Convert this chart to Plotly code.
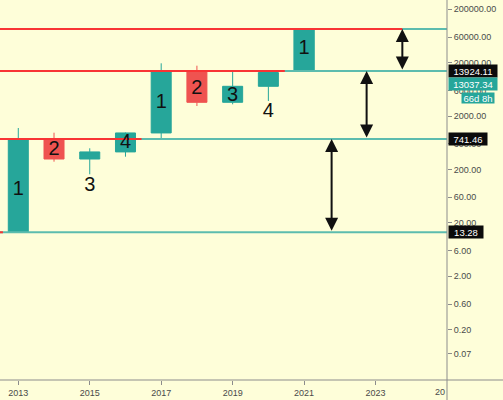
import math
import plotly.graph_objects as go

# ---- data ----
years = [2013, 2014, 2015, 2016, 2017, 2018, 2019, 2020]
opens = [13.28, 741.46, 313, 425, 963, 13880, 3612, 7200]
highs = [1192, 974, 497, 985, 19410, 17500, 13510, 13217]
lows = [13.28, 279, 162, 346, 732, 3078, 3313, 3819]
closes = [741.46, 313, 425, 963, 13880, 3612, 7200, 13037.34]

proj_year = [2021]
proj_open = [13924.11]
proj_close = [85000]

levels = [13.28, 741.46, 13924.11, 85000]
red_end_years = [2012.57, 2016.45, 2020.46, 2023.75]

arrow_years = [2021.77, 2022.75, 2023.75]
arrow_lows = [13.28, 741.46, 13924.11]
arrow_highs = [741.46, 13924.11, 85000]

label_years = [2013, 2014, 2015, 2016, 2017, 2018, 2019, 2020, 2021]
label_values = [82, 462, 98, 624, 3500, 6400, 4740, 2380, 36000]
label_texts = ["1", "2", "3", "4", "1", "2", "3", "4", "1"]

ytick_vals = [0.07, 0.2, 0.6, 2, 6, 20, 60, 200, 600, 2000, 6000, 20000, 60000, 200000]
ytick_text = ["%.2f" % v for v in ytick_vals]
xtick_vals = [2013, 2015, 2017, 2019, 2021, 2023]
xtick_text = [str(v) for v in xtick_vals]

last_price = 13037.34
countdown = "66d 8h"

# ---- style ----
BG = "#fefed9"
TEAL = "#26a69a"
TEAL_LINE = "#5cbcae"
RED = "#ef5350"
RED_LINE = "#f83434"
AXIS = "#8c8c8c"
TXT = "#4a4a4a"
FONT = "Liberation Sans"

X0, X1 = 2012.488, 2025.0
Y0, Y1 = -1.6427, 5.4734

fig = go.Figure()

# teal horizontal levels (full width)
for lv in levels:
    fig.add_trace(go.Scatter(x=[X0, X1], y=[lv, lv], mode="lines",
                             line=dict(color=TEAL_LINE, width=2), hoverinfo="skip", showlegend=False))
# red partial lines
for lv, xe in zip(levels, red_end_years):
    fig.add_trace(go.Scatter(x=[X0, xe], y=[lv, lv], mode="lines",
                             line=dict(color=RED_LINE, width=2), hoverinfo="skip", showlegend=False))

fig.add_trace(go.Candlestick(
    x=years, open=opens, high=highs, low=lows, close=closes,
    increasing=dict(line=dict(color=TEAL, width=1), fillcolor=TEAL),
    decreasing=dict(line=dict(color=RED, width=1), fillcolor=RED),
    whiskerwidth=0, showlegend=False, hoverinfo="skip"))

fig.add_trace(go.Bar(
    x=proj_year, y=[c - o for c, o in zip(proj_close, proj_open)], base=proj_open,
    width=0.6, marker=dict(color=TEAL, line=dict(width=0)), showlegend=False, hoverinfo="skip"))

fig.add_trace(go.Scatter(
    x=label_years, y=label_values, text=label_texts, mode="text",
    textposition="middle center", textfont=dict(size=20, color="#111111", family=FONT),
    showlegend=False, hoverinfo="skip"))

annotations = []
for xa, lo, hi in zip(arrow_years, arrow_lows, arrow_highs):
    annotations.append(dict(
        x=xa, y=math.log10(hi), ax=xa, ay=math.log10(lo), xref="x", yref="y",
        axref="x", ayref="y", text="", showarrow=True, arrowside="end+start",
        arrowhead=2, arrowsize=1.3, arrowwidth=2, arrowcolor="#111111",
        standoff=0, startstandoff=0))

LBL_FONT = dict(size=9.5, color="white", family=FONT)
# right side price labels
for lv, w in zip(levels[:3], [32, 36, 46]):
    annotations.append(dict(
        x=1, xref="paper", y=math.log10(lv), yref="y", xanchor="left", yanchor="middle",
        text="%.2f" % lv, showarrow=False, bgcolor="#0b0b0b", width=w, height=10,
        font=LBL_FONT, borderpad=1, xshift=1))
annotations.append(dict(
    x=1, xref="paper", y=math.log10(last_price), yref="y", xanchor="left", yanchor="middle",
    text="%.2f" % last_price, showarrow=False, bgcolor=TEAL, width=46, height=10,
    font=LBL_FONT, borderpad=1, xshift=1, yshift=-11))
annotations.append(dict(
    x=1, xref="paper", y=math.log10(last_price), yref="y", xanchor="left", yanchor="middle",
    text=countdown, showarrow=False, bgcolor=TEAL, width=30, height=8,
    font=LBL_FONT, borderpad=1, xshift=14, yshift=-25))
annotations.append(dict(
    x=X1, xref="x", y=0, yref="paper", xanchor="right", yanchor="top",
    text="20", showarrow=False, font=dict(size=9, color=TXT, family=FONT), yshift=-5))

shapes = [
    dict(type="line", xref="paper", yref="paper", x0=0, x1=1.2, y0=0, y1=0,
         line=dict(color=AXIS, width=1)),
    dict(type="line", xref="paper", yref="paper", x0=1, x1=1, y0=-0.06, y1=1,
         line=dict(color=AXIS, width=1)),
]

fig.update_layout(
    width=503, height=400,
    margin=dict(l=0, r=56, t=0, b=20),
    paper_bgcolor=BG, plot_bgcolor=BG,
    boxgap=0.2, showlegend=False,
    annotations=annotations, shapes=shapes,
    font=dict(family=FONT, size=9, color=TXT),
    xaxis=dict(range=[X0, X1], tickvals=xtick_vals, ticktext=xtick_text,
               showgrid=False, zeroline=False, showline=False,
               ticks="outside", ticklen=4, tickcolor=AXIS,
               tickfont=dict(size=9, color=TXT), rangeslider=dict(visible=False)),
    yaxis=dict(type="log", range=[Y0, Y1], side="right",
               tickvals=ytick_vals, ticktext=ytick_text,
               showgrid=False, zeroline=False, showline=False,
               ticks="outside", ticklen=4, tickcolor=AXIS,
               tickfont=dict(size=9, color=TXT)),
)

fig.write_html("out.html", config={"displayModeBar": False},
               post_script="document.body.style.margin='0';document.body.style.overflow='hidden';document.body.style.background='" + BG + "';")
